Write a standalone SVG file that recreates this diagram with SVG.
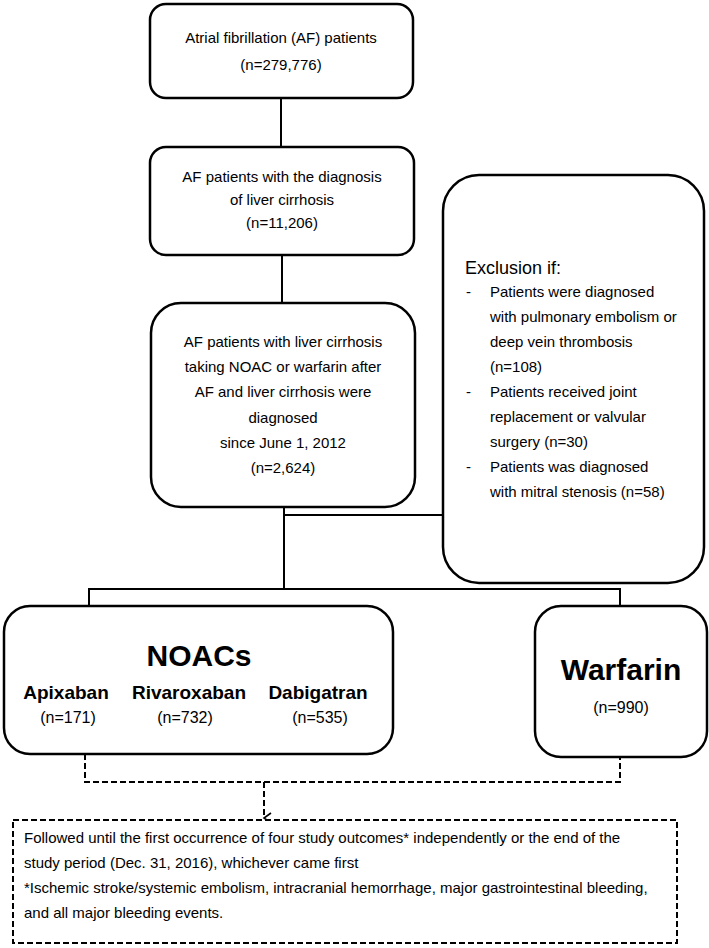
<svg xmlns="http://www.w3.org/2000/svg" width="709" height="948" viewBox="0 0 709 948">
<defs>
<style>
.box{fill:#fff;stroke:#000;stroke-width:2.5}
.dbox{fill:#fff;stroke:#000;stroke-width:2;stroke-dasharray:6,3}
.ln{fill:none;stroke:#000;stroke-width:2}
.dl{fill:none;stroke:#000;stroke-width:2;stroke-dasharray:6,3}
text{font-family:"Liberation Sans",Arial,sans-serif;fill:#000}
.t{font-size:15px}
.c{text-anchor:middle}
.b{font-weight:bold}
</style>
<marker id="arr" markerWidth="12" markerHeight="12" refX="6" refY="10" orient="auto" markerUnits="userSpaceOnUse" viewBox="0 0 12 12">
<path d="M1,3 L6,10 L11,3" fill="none" stroke="#000" stroke-width="1.6"/>
</marker>
</defs>
<rect width="709" height="948" fill="#fff"/>
<g id="connectors">
<line class="ln" x1="281" y1="98" x2="281" y2="147"/>
<line class="ln" x1="282" y1="255" x2="282" y2="303"/>
<line class="ln" x1="284" y1="507" x2="284" y2="589"/>
<line class="ln" x1="284" y1="515" x2="443" y2="515"/>
<polyline class="ln" points="89,606 89,589 620,589 620,606"/>
<polyline class="dl" points="85,754 85,782 620,782 620,757"/>
<line class="dl" x1="264" y1="782" x2="264" y2="818" marker-end="url(#arr)"/>
</g>
<g id="n1">
<rect class="box" x="150" y="4" width="263" height="94" rx="16"/>
<text class="t c" x="281" y="43">Atrial fibrillation (AF) patients</text>
<text class="t c" x="281" y="70">(n=279,776)</text>
</g>
<g id="n2">
<rect class="box" x="150" y="147" width="264" height="108" rx="16"/>
<text class="t c" x="282" y="182">AF patients with the diagnosis</text>
<text class="t c" x="282" y="205">of liver cirrhosis</text>
<text class="t c" x="282" y="228">(n=11,206)</text>
</g>
<g id="n3">
<rect class="box" x="151" y="303" width="264" height="204" rx="30"/>
<text class="t c" x="283" y="347">AF patients with liver cirrhosis</text>
<text class="t c" x="283" y="372">taking NOAC or warfarin after</text>
<text class="t c" x="283" y="397">AF and liver cirrhosis were</text>
<text class="t c" x="283" y="423">diagnosed</text>
<text class="t c" x="283" y="448">since June 1, 2012</text>
<text class="t c" x="283" y="473">(n=2,624)</text>
</g>
<g id="exclusion">
<rect class="box" x="443" y="175" width="261" height="408" rx="36"/>
<text x="465" y="274" style="font-size:18px">Exclusion if:</text>
<text class="t" x="466" y="297">-</text>
<text class="t" x="490" y="297">Patients were diagnosed</text>
<text class="t" x="490" y="322">with pulmonary embolism or</text>
<text class="t" x="490" y="347">deep vein thrombosis</text>
<text class="t" x="490" y="372">(n=108)</text>
<text class="t" x="466" y="397">-</text>
<text class="t" x="490" y="397">Patients received joint</text>
<text class="t" x="490" y="422">replacement or valvular</text>
<text class="t" x="490" y="447">surgery (n=30)</text>
<text class="t" x="466" y="472">-</text>
<text class="t" x="490" y="472">Patients was diagnosed</text>
<text class="t" x="490" y="497">with mitral stenosis (n=58)</text>
</g>
<g id="noacs">
<rect class="box" x="4" y="606" width="389" height="148" rx="26"/>
<text class="b c" x="199" y="666" style="font-size:30px">NOACs</text>
<text class="b c" x="66" y="699" style="font-size:19px">Apixaban</text>
<text class="b c" x="189" y="699" style="font-size:19px">Rivaroxaban</text>
<text class="b c" x="318" y="699" style="font-size:19px">Dabigatran</text>
<text class="c" x="68" y="723" style="font-size:16px">(n=171)</text>
<text class="c" x="185" y="723" style="font-size:16px">(n=732)</text>
<text class="c" x="320" y="723" style="font-size:16px">(n=535)</text>
</g>
<g id="warfarin">
<rect class="box" x="535" y="606" width="172" height="151" rx="26"/>
<text class="b c" x="621" y="680" style="font-size:30px">Warfarin</text>
<text class="c" x="621" y="713" style="font-size:16px">(n=990)</text>
</g>
<g id="outcome">
<rect class="dbox" x="13" y="820" width="664" height="123"/>
<text class="t" x="24" y="843">Followed until the first occurrence of four study outcomes* independently or the end of the</text>
<text class="t" x="24" y="868">study period (Dec. 31, 2016), whichever came first</text>
<text class="t" x="24" y="893">*Ischemic stroke/systemic embolism, intracranial hemorrhage, major gastrointestinal bleeding,</text>
<text class="t" x="24" y="918">and all major bleeding events.</text>
</g>
</svg>
